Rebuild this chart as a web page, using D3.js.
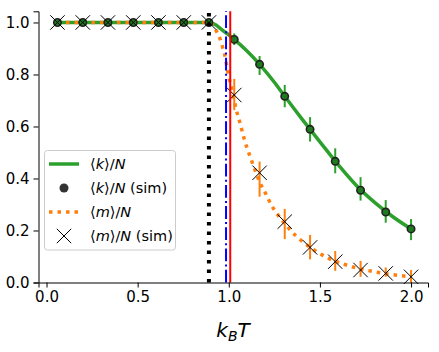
<!DOCTYPE html>
<html>
<head>
<meta charset="utf-8">
<script src="https://cdn.jsdelivr.net/npm/d3@7"></script>
<style>
  body { margin: 0; background: #fff; }
  svg text { font-family: "DejaVu Sans", sans-serif; fill: #000; }
</style>
</head>
<body>
<div id="chart"></div>
<script>
// simulation temperatures (markers + error bars)
const simT = [0.06, 0.199, 0.337, 0.476, 0.614, 0.753, 0.891, 1.03, 1.169, 1.307, 1.446, 1.584, 1.723, 1.861, 2.0];
const kSim = [1, 1, 1, 1, 1, 1, 1, 0.935, 0.839, 0.716, 0.589, 0.466, 0.355, 0.271, 0.206];
const kLo  = [1, 1, 1, 1, 1, 1, 1, 0.913, 0.798, 0.674, 0.542, 0.420, 0.315, 0.230, 0.163];
const kHi  = [1, 1, 1, 1, 1, 1, 1, 0.958, 0.871, 0.760, 0.636, 0.516, 0.405, 0.317, 0.244];
const mSim = [1, 1, 1, 1, 1, 1, 1, 0.721, 0.422, 0.234, 0.135, 0.080, 0.048, 0.035, 0.022];
const mLo  = [1, 1, 1, 1, 1, 1, 1, 0.663, 0.330, 0.167, 0.089, 0.045, 0.022, 0.022, 0.000];
const mHi  = [1, 1, 1, 1, 1, 1, 1, 0.783, 0.465, 0.283, 0.183, 0.121, 0.083, 0.058, 0.048];

// theory curves
const kCurveT = [0.06, 0.891, 0.93, 0.953, 1.0, 1.03, 1.1, 1.169, 1.25, 1.307, 1.4, 1.5, 1.6, 1.7, 1.8, 1.9, 2.0];
const kCurve  = [1, 1, 0.99, 0.977, 0.952, 0.935, 0.89, 0.839, 0.77, 0.716, 0.63, 0.541, 0.453, 0.373, 0.308, 0.253, 0.206];
const mCurveT = [0.06, 0.891, 0.91, 0.935, 0.953, 0.966, 0.977, 0.985, 0.993, 1.001, 1.02, 1.039, 1.063, 1.085, 1.114, 1.14, 1.173, 1.2, 1.237, 1.28, 1.337, 1.4, 1.474, 1.55, 1.629, 1.7, 1.793, 1.9, 2.0];
const mCurve  = [1, 1, 0.992, 0.963, 0.935, 0.905, 0.878, 0.847, 0.817, 0.788, 0.735, 0.67, 0.61, 0.551, 0.49, 0.44, 0.381, 0.345, 0.294, 0.25, 0.202, 0.16, 0.122, 0.092, 0.071, 0.056, 0.042, 0.03, 0.022];

// vertical reference lines
const vDotted = 0.891;
const vDashDot = 0.985;
const vSolid = 1.008;

const xTicks = [0.0, 0.5, 1.0, 1.5, 2.0];
const yTicks = [0.0, 0.2, 0.4, 0.6, 0.8, 1.0];

const W = 439, H = 352;
const svg = d3.select("#chart").append("svg")
    .attr("width", W)
    .attr("height", H);

const x = d3.scaleLinear().domain([-0.044, 2.093]).range([38.5, 428]);
const y = d3.scaleLinear().domain([0, 1.043]).range([282.5, 11.3]);

const green = "#2ca02c", orange = "#ff7f0e";

// curves
const kLine = d3.line().x(d => x(d[0])).y(d => y(d[1])).curve(d3.curveMonotoneX);
svg.append("path")
    .attr("d", kLine(kCurveT.map((t, i) => [t, kCurve[i]])))
    .attr("fill", "none")
    .attr("stroke", green)
    .attr("stroke-width", 3.5);

svg.append("path")
    .attr("d", kLine(mCurveT.map((t, i) => [t, mCurve[i]])))
    .attr("fill", "none")
    .attr("stroke", orange)
    .attr("stroke-width", 3.5)
    .attr("stroke-dasharray", "3.5,5");

// error bars
const idx = d3.range(simT.length);
svg.selectAll("line.kerr").data(idx.filter(i => kHi[i] > kLo[i])).enter()
    .append("line")
    .attr("x1", i => x(simT[i])).attr("x2", i => x(simT[i]))
    .attr("y1", i => y(kLo[i])).attr("y2", i => y(kHi[i]))
    .attr("stroke", green)
    .attr("stroke-width", 2);

svg.selectAll("line.merr").data(idx.filter(i => mHi[i] > mLo[i])).enter()
    .append("line")
    .attr("x1", i => x(simT[i])).attr("x2", i => x(simT[i]))
    .attr("y1", i => y(mLo[i])).attr("y2", i => y(mHi[i]))
    .attr("stroke", orange)
    .attr("stroke-width", 2);

// <k>/N sim markers
svg.selectAll("circle.ksim").data(idx).enter()
    .append("circle")
    .attr("cx", i => x(simT[i]))
    .attr("cy", i => y(kSim[i]))
    .attr("r", 3.7)
    .attr("fill", "#1e7a1e")
    .attr("stroke", "#222")
    .attr("stroke-width", 1.6);

// <m>/N sim markers (x)
const xs = 7.2;
const crossPath = (cx, cy, s) => `M${cx - s},${cy - s}L${cx + s},${cy + s}M${cx - s},${cy + s}L${cx + s},${cy - s}`;
svg.selectAll("path.msim").data(idx).enter()
    .append("path")
    .attr("d", i => crossPath(x(simT[i]), y(mSim[i]), xs))
    .attr("stroke", "#000")
    .attr("stroke-width", 1)
    .attr("fill", "none");

// vertical lines
svg.append("line")
    .attr("x1", x(vDotted)).attr("x2", x(vDotted))
    .attr("y1", y.range()[0]).attr("y2", y.range()[1])
    .attr("stroke", "#000").attr("stroke-width", 4)
    .attr("stroke-dasharray", "3.5,6");
svg.append("line")
    .attr("x1", x(vDashDot)).attr("x2", x(vDashDot))
    .attr("y1", y.range()[0]).attr("y2", y.range()[1])
    .attr("stroke", "#0000ff").attr("stroke-width", 2)
    .attr("stroke-dasharray", "12.8,3.2,2,3.2");
svg.append("line")
    .attr("x1", x(vSolid)).attr("x2", x(vSolid))
    .attr("y1", y.range()[0]).attr("y2", y.range()[1])
    .attr("stroke", "#ff0000").attr("stroke-width", 2);

// axes
const xAxis = svg.append("g")
    .attr("transform", `translate(0,${y(0)})`)
    .call(d3.axisBottom(x).tickValues(xTicks).tickFormat(d3.format(".1f")).tickSizeOuter(0).tickSize(5).tickPadding(4));
const yAxis = svg.append("g")
    .attr("transform", `translate(${x.range()[0]},0)`)
    .call(d3.axisLeft(y).tickValues(yTicks).tickFormat(d3.format(".1f")).tickSizeOuter(0).tickSize(5).tickPadding(4));
[xAxis, yAxis].forEach(g => {
    g.selectAll("text").attr("font-size", "15px").attr("font-family", "DejaVu Sans").attr("fill", "#000");
    g.selectAll("line, path").attr("stroke", "#000").attr("stroke-width", 1);
    g.attr("font-family", null);
});

// x label: k_B T
const xl = svg.append("text")
    .attr("x", 233)
    .attr("y", 337)
    .attr("text-anchor", "middle")
    .attr("font-size", "20px")
    .attr("font-style", "italic");
xl.append("tspan").text("k");
xl.append("tspan").attr("font-size", "14px").attr("dy", 4).text("B");
xl.append("tspan").attr("dy", -4).text("T");

// legend
const leg = svg.append("g");
leg.append("rect")
    .attr("x", 44.5).attr("y", 150.5)
    .attr("width", 131).attr("height", 99.5)
    .attr("rx", 3)
    .attr("fill", "#fff").attr("fill-opacity", 0.8)
    .attr("stroke", "#cccccc").attr("stroke-width", 1);

const rows = [164, 188, 212, 236];
leg.append("line").attr("x1", 49).attr("x2", 79).attr("y1", rows[0]).attr("y2", rows[0])
    .attr("stroke", green).attr("stroke-width", 3.5);
leg.append("circle").attr("cx", 64).attr("cy", rows[1]).attr("r", 4.5).attr("fill", "#333");
leg.append("line").attr("x1", 49).attr("x2", 79).attr("y1", rows[2]).attr("y2", rows[2])
    .attr("stroke", orange).attr("stroke-width", 3.5).attr("stroke-dasharray", "3.5,5");
leg.append("path").attr("d", crossPath(64, rows[3], 7.2)).attr("stroke", "#000").attr("stroke-width", 1);

const labels = [["k", ""], ["k", " (sim)"], ["m", ""], ["m", " (sim)"]];
labels.forEach((l, i) => {
    const t = leg.append("text")
        .attr("x", 90)
        .attr("y", rows[i] + 5)
        .attr("font-size", "14.5px");
    t.append("tspan").text("\u27E8");
    t.append("tspan").attr("font-style", "italic").text(l[0]);
    t.append("tspan").text("\u27E9/");
    t.append("tspan").attr("font-style", "italic").text("N");
    if (l[1]) t.append("tspan").text(l[1]);
});
</script>
</body>
</html>
